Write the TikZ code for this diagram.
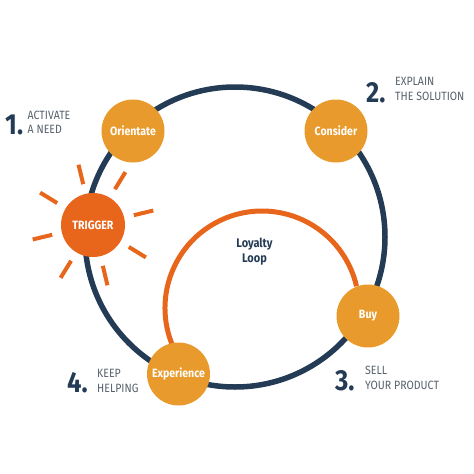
\documentclass[tikz,border=0pt]{standalone}
\usepackage{fontspec}
\setmainfont{Fira Sans}[FakeStretch=0.88]
\definecolor{navy}{HTML}{243B55}
\definecolor{gold}{HTML}{E99A2C}
\definecolor{deep}{HTML}{E8661C}
\definecolor{lab}{HTML}{56606B}
\begin{document}
\begin{tikzpicture}[x=1pt,y=-1pt,
 stage/.style={circle,fill=gold,minimum size=63pt,inner sep=0pt,text=white,font=\bfseries\fontsize{12}{14}\selectfont},
 trigstyle/.style={stage,fill=deep,minimum size=64pt},
 num/.style={anchor=base west,inner sep=0pt,text=navy,font=\bfseries\fontsize{29}{29}\selectfont},
 lbl/.style={anchor=base west,inner sep=0pt,text=lab,font=\fontsize{12}{13}\selectfont},
 looplbl/.style={anchor=base,inner sep=0pt,text=navy,font=\bfseries\fontsize{12.5}{14}\selectfont},
 ray/.style={deep,line width=4pt},
 loopline/.style={deep,line width=5pt},
 ring/.style={navy,line width=5.5pt}]
\useasboundingbox (0,0) rectangle (474,474);
\coordinate (hub) at (235,237);
\coordinate (loophub) at (262,308);
\draw[ring] (hub) circle[radius=150];
\draw[loopline] (loophub) ++(157:97) arc[start angle=157,end angle=347,radius=97];
\node[stage] (orient) at (133,131) {Orientate};
\node[stage] (consider) at (336,131) {Consider};
\node[stage] (buy) at (368,316) {Buy};
\node[stage] (exper) at (178.5,374) {Experience};
\node[trigstyle] (trig) at (93,225) {TRIGGER};
\foreach \a in {-13.5,31.5,...,301.5}
  \draw[ray] (trig.center) ++(\a:42) -- ++(\a:20);
\node[looplbl] (loy1) at (254.5,247) {Loyalty};
\node[looplbl] (loy2) at (254.5,262) {Loop};
\node[num] (n1) at (5,134) {1.};
\node[lbl] (t1a) at (27.5,119) {ACTIVATE};
\node[lbl] (t1b) at (27.5,133) {A NEED};
\node[num] (n2) at (366,102) {2.};
\node[lbl] (t2a) at (395,85) {EXPLAIN};
\node[lbl] (t2b) at (395,100) {THE SOLUTION};
\node[num] (n3) at (335,390) {3.};
\node[lbl] (t3a) at (365,374) {SELL};
\node[lbl] (t3b) at (365,389) {YOUR PRODUCT};
\node[num] (n4) at (67,392) {4.};
\node[lbl] (t4a) at (97,377) {KEEP};
\node[lbl] (t4b) at (97,392) {HELPING};
\end{tikzpicture}
\end{document}
